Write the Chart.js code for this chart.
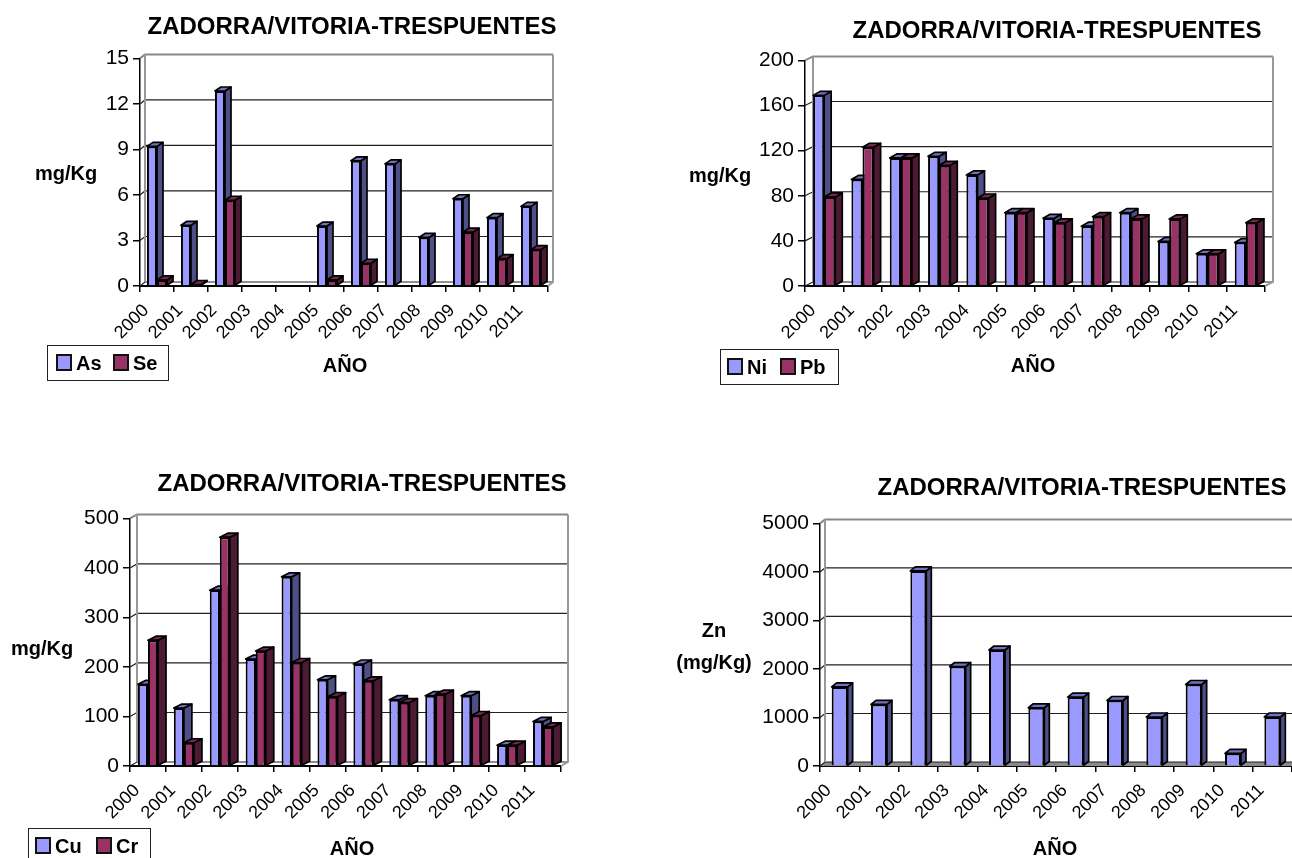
<!DOCTYPE html>
<html>
<head>
<meta charset="utf-8">
<title>Zadorra</title>
<script src="https://cdn.jsdelivr.net/npm/chart.js@4"></script>
<style>
  html, body { margin: 0; padding: 0; background: #fff; }
  body { position: relative; width: 1292px; height: 858px; overflow: hidden; font-family: "Liberation Sans", Arial, sans-serif; color: #000; }
  canvas { position: absolute; }
  .label { position: absolute; font-weight: bold; font-size: 20px; line-height: 32px; text-align: center; transform: translate(-50%, -50%); white-space: nowrap; }
  .legend { position: absolute; box-sizing: border-box; height: 36px; background: #fff; border: 1.5px solid #222; font-weight: bold; font-size: 20px; line-height: 34px; white-space: nowrap; }
  .legend span { position: absolute; top: 0; }
  .legend i { position: absolute; top: 8px; width: 16px; height: 17px; box-sizing: border-box; border: 2px solid #111; }
</style>
</head>
<body>
<script>
  const years = ["2000","2001","2002","2003","2004","2005","2006","2007","2008","2009","2010","2011"];

  const asValues = [9.2, 4.0, 12.85, null, null, 3.95, 8.25, 8.05, 3.2, 5.75, 4.5, 5.25];
  const seValues = [0.4, 0.1, 5.65, null, null, 0.4, 1.5, null, null, 3.55, 1.8, 2.4];

  const niValues = [169, 94.5, 113.5, 115, 98.5, 65, 60, 53, 65, 39.5, 28.5, 38.5];
  const pbValues = [79, 123, 113.5, 107, 78, 65, 56, 61.5, 59.5, 59.5, 28.5, 56];

  const cuValues = [165, 117, 355, 216, 382, 174, 206, 134, 142, 142, 42, 90];
  const crValues = [254, 47, 462, 232, 209, 140, 172, 128, 145, 102, 42, 79];

  const znValues = [1630, 1270, 4020, 2050, 2390, 1200, 1420, 1350, 1010, 1680, 260, 1010];

  const blue = { front: "#9999ff", side: "#4f4f88", top: "#7272c0" };
  const wine = { front: "#993366", side: "#4d1a33", top: "#752850" };

  const panels = [
    { x0: 140, x1: 548, y0: 286.5, y1: 58, dx: 5, dy: 4, depth: 6, max: 15, step: 3, cat: 0.59,
      titleX: 352, titleY: 27, xLabelX: 345, xLabelY: 365,
      yLabel: ["mg/Kg"], yLabelX: 66, yLabelY: 173,
      series: [["As", asValues, blue], ["Se", seValues, wine]],
      legend: { x: 47, y: 345, w: 122, first: 8, second: 57 } },
    { x0: 805, x1: 1265, y0: 286.5, y1: 60, dx: 8, dy: 4, depth: 7, max: 200, step: 40, cat: 0.58,
      titleX: 1057, titleY: 31, xLabelX: 1033, xLabelY: 365,
      yLabel: ["mg/Kg"], yLabelX: 720, yLabelY: 175,
      series: [["Ni", niValues, blue], ["Pb", pbValues, wine]],
      legend: { x: 720, y: 349, w: 119, first: 6, second: 53 } },
    { x0: 130, x1: 561, y0: 766.5, y1: 518, dx: 7, dy: 4, depth: 8, max: 500, step: 100, cat: 0.56,
      titleX: 362, titleY: 484, xLabelX: 352, xLabelY: 848,
      yLabel: ["mg/Kg"], yLabelX: 42, yLabelY: 648,
      series: [["Cu", cuValues, blue], ["Cr", crValues, wine]],
      legend: { x: 28, y: 828, w: 123, first: 6, second: 61 } },
    { x0: 820, x1: 1292, y0: 766.5, y1: 523, dx: 5, dy: 4, depth: 5, max: 5000, step: 1000, cat: 0.406,
      titleX: 1082, titleY: 488, xLabelX: 1055, xLabelY: 848,
      yLabel: ["Zn", "(mg/Kg)"], yLabelX: 714, yLabelY: 646, greyFloor: true,
      series: [["Zn", znValues, blue]] }
  ];

  /* 3D look: walls behind the bars, side and top faces on each bar */
  const box3d = {
    id: "box3d",
    afterLayout(chart) {
      // centre the title on the canvas, not between the layout paddings
      chart.titleBlock.left = 0;
      chart.titleBlock.right = chart.width;
    },
    beforeDatasetsDraw(chart, args, opts) {
      const { ctx, chartArea: a, scales: { y } } = chart;
      const { dx, dy, greyFloor } = opts;
      ctx.save();

      if (greyFloor) {
        ctx.fillStyle = "#8a8a8a";
        ctx.beginPath();
        ctx.moveTo(a.left, a.bottom);
        ctx.lineTo(a.left + dx, a.bottom - dy);
        ctx.lineTo(a.right + dx, a.bottom - dy);
        ctx.lineTo(a.right, a.bottom);
        ctx.fill();
      }

      // gridlines on the back wall and the side wall
      y.ticks.forEach((t) => {
        const py = y.getPixelForValue(t.value);
        const isTop = t.value === y.max;
        ctx.strokeStyle = isTop ? "#888" : "#222";
        ctx.lineWidth = isTop ? 2 : 1.2;
        ctx.beginPath();
        ctx.moveTo(a.left, py);
        ctx.lineTo(a.left + dx, py - dy);
        ctx.lineTo(a.right + dx, py - dy);
        ctx.stroke();
      });

      // wall edges
      ctx.strokeStyle = "#999";
      ctx.lineWidth = 2;
      ctx.beginPath();
      ctx.moveTo(a.left + dx, a.top - dy);
      ctx.lineTo(a.left + dx, a.bottom - dy);
      ctx.moveTo(a.right + dx, a.top - dy);
      ctx.lineTo(a.right + dx, a.bottom - dy);
      ctx.lineTo(a.right, a.bottom);
      ctx.stroke();

      ctx.restore();
    },
    beforeDatasetDraw() {
      return false;
    },
    afterDatasetsDraw(chart, args, opts) {
      const { ctx } = chart;
      const d = opts.depth, dy = opts.dy;
      chart.data.datasets.forEach((set, i) => {
        const meta = chart.getDatasetMeta(i);
        meta.data.forEach((bar, j) => {
          if (set.data[j] == null) return;
          const l = bar.x - bar.width / 2, r = bar.x + bar.width / 2;
          const top = bar.y, bot = bar.base;
          ctx.save();
          ctx.strokeStyle = "#000";
          ctx.lineWidth = 1.7;
          ctx.lineJoin = "round";
          ctx.fillStyle = set.colors.side;
          ctx.beginPath();
          ctx.moveTo(r, top);
          ctx.lineTo(r + d, top - dy);
          ctx.lineTo(r + d, bot - dy);
          ctx.lineTo(r, bot);
          ctx.closePath();
          ctx.fill();
          ctx.stroke();
          ctx.fillStyle = set.colors.top;
          ctx.beginPath();
          ctx.moveTo(l, top);
          ctx.lineTo(l + d, top - dy);
          ctx.lineTo(r + d, top - dy);
          ctx.lineTo(r, top);
          ctx.closePath();
          ctx.fill();
          ctx.stroke();
          ctx.restore();
          bar.draw(ctx);
        });
      });
    }
  };

  function addLabel(text, x, y) {
    const el = document.createElement("div");
    el.className = "label";
    el.innerHTML = text.join("<br>");
    el.style.left = x + "px";
    el.style.top = y + "px";
    document.body.appendChild(el);
  }

  function addLegend(p) {
    const box = document.createElement("div");
    box.className = "legend";
    box.style.left = p.legend.x + "px";
    box.style.top = p.legend.y + "px";
    box.style.width = p.legend.w + "px";
    p.series.forEach((s, i) => {
      const off = p.legend.first + i * p.legend.second;
      const sw = document.createElement("i");
      sw.style.left = off + "px";
      sw.style.background = s[2].front;
      box.appendChild(sw);
      const txt = document.createElement("span");
      txt.style.left = off + 20 + "px";
      txt.textContent = s[0];
      box.appendChild(txt);
    });
    document.body.appendChild(box);
  }

  const titleSize = 24, titleLine = titleSize * 1.2;
  const yWidth = 70, xHeight = 90;

  panels.forEach((p) => {
    const left = p.x0 - yWidth - 10;
    const width = 2 * (p.titleX - left);
    const top = p.titleY - titleLine / 2 - 2;
    const height = p.y0 + xHeight + 10 - top;

    const canvas = document.createElement("canvas");
    canvas.style.left = left + "px";
    canvas.style.top = top + "px";
    canvas.style.width = width + "px";
    canvas.style.height = height + "px";
    canvas.width = width;
    canvas.height = height;
    document.body.appendChild(canvas);

    new Chart(canvas, {
      type: "bar",
      data: {
        labels: years,
        datasets: p.series.map((s) => ({
          label: s[0],
          data: s[1],
          colors: s[2],
          backgroundColor: s[2].front,
          borderColor: "#000",
          borderWidth: 2,
          barPercentage: 1,
          categoryPercentage: p.cat
        }))
      },
      plugins: [box3d],
      options: {
        responsive: false,
        animation: false,
        layout: {
          padding: { left: 10, top: 2, right: left + width - p.x1, bottom: 10 }
        },
        plugins: {
          legend: { display: false },
          tooltip: { enabled: false },
          title: {
            display: true,
            text: "ZADORRA/VITORIA-TRESPUENTES",
            color: "#000",
            font: { family: "Liberation Sans", size: titleSize, weight: "bold" },
            padding: { top: 0, bottom: p.y1 - (p.titleY + titleLine / 2) }
          },
          box3d: { dx: p.dx, dy: p.dy, depth: p.depth, greyFloor: p.greyFloor }
        },
        scales: {
          x: {
            afterFit(s) { s.height = xHeight; },
            grid: { drawOnChartArea: false, color: "#000", lineWidth: 1.5, tickLength: 6 },
            border: { color: "#000", width: 2 },
            ticks: {
              autoSkip: false, minRotation: 45, maxRotation: 45, labelOffset: -11, padding: 8,
              color: "#000", font: { family: "Liberation Sans", size: 18 }
            }
          },
          y: {
            min: 0,
            max: p.max,
            afterFit(s) { s.width = yWidth; },
            grid: { drawOnChartArea: false, color: "#000", lineWidth: 1.5, tickLength: 7 },
            border: { color: "#000", width: 1.5 },
            ticks: {
              stepSize: p.step, padding: 4, format: { useGrouping: false },
              color: "#000", font: { family: "Liberation Sans", size: 21 }
            }
          }
        }
      }
    });

    addLabel(p.yLabel, p.yLabelX, p.yLabelY);
    addLabel(["AÑO"], p.xLabelX, p.xLabelY);
    if (p.legend) addLegend(p);
  });
</script>
</body>
</html>
